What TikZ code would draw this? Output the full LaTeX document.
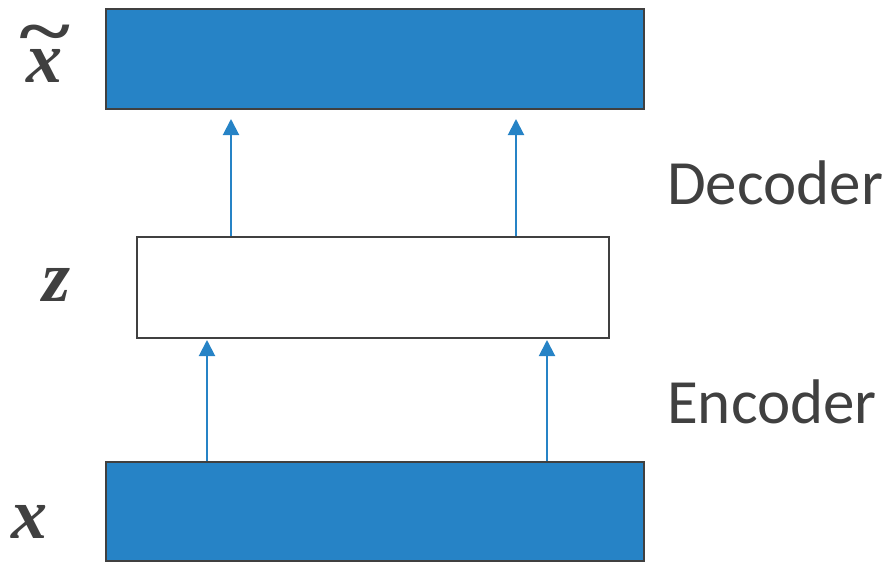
\documentclass[tikz,border=0pt]{standalone}
\usepackage{fontspec}
\setmainfont{Carlito}
\newfontfamily\mathlbl{Liberation Serif}
\usetikzlibrary{arrows.meta}
\definecolor{fillblue}{HTML}{2683C6}
\definecolor{edgegray}{HTML}{404040}
\definecolor{txtgray}{HTML}{404040}
\tikzset{
  layerbox/.style={draw=edgegray, line width=2pt, rectangle, inner sep=0pt, anchor=north west},
  filled/.style={layerbox, fill=fillblue},
  hollow/.style={layerbox, fill=white},
  arr/.style={draw=fillblue, line width=2pt, -{Triangle[width=16pt,length=16pt]}},
  phase/.style={inner sep=0pt, anchor=base west, text=txtgray, font=\fontsize{63}{70}\selectfont},
  varlbl/.style={inner sep=0pt, anchor=base, text=txtgray, font=\fontsize{72}{80}\selectfont\mathlbl\bfseries\itshape}
}
\begin{document}
\begin{tikzpicture}[x=1pt,y=1pt]
\useasboundingbox (0,0) rectangle (889,-563);
\node[filled, minimum width=538pt, minimum height=100pt] (top) at (105,-8) {};
\node[hollow, minimum width=472pt, minimum height=101pt] (mid) at (136,-236) {};
\node[filled, minimum width=538pt, minimum height=99pt] (bot) at (105,-461) {};
% arrows
\draw[arr] ([xshift=95pt]mid.north west) -- ([xshift=126pt,yshift=-9pt]top.south west);
\draw[arr] ([xshift=380pt]mid.north west) -- ([xshift=411pt,yshift=-9pt]top.south west);
\draw[arr] ([xshift=102pt]bot.north west) -- ([xshift=71pt,yshift=-1pt]mid.south west);
\draw[arr] ([xshift=442pt]bot.north west) -- ([xshift=411pt,yshift=-1pt]mid.south west);
% labels
\node[phase] (dec) at (667,-204) {Decoder};
\node[phase] (enc) at (667,-423) {Encoder};
\node[varlbl] (xt) at (44,-82) {\ooalign{x\cr\hidewidth\raisebox{27pt}{\scalebox{1.35}[1]{\textasciitilde}}\hidewidth\cr}};
\node[varlbl] (zl) at (57,-301) {z};
\node[varlbl] (xl) at (30,-538) {x};
\end{tikzpicture}
\end{document}
